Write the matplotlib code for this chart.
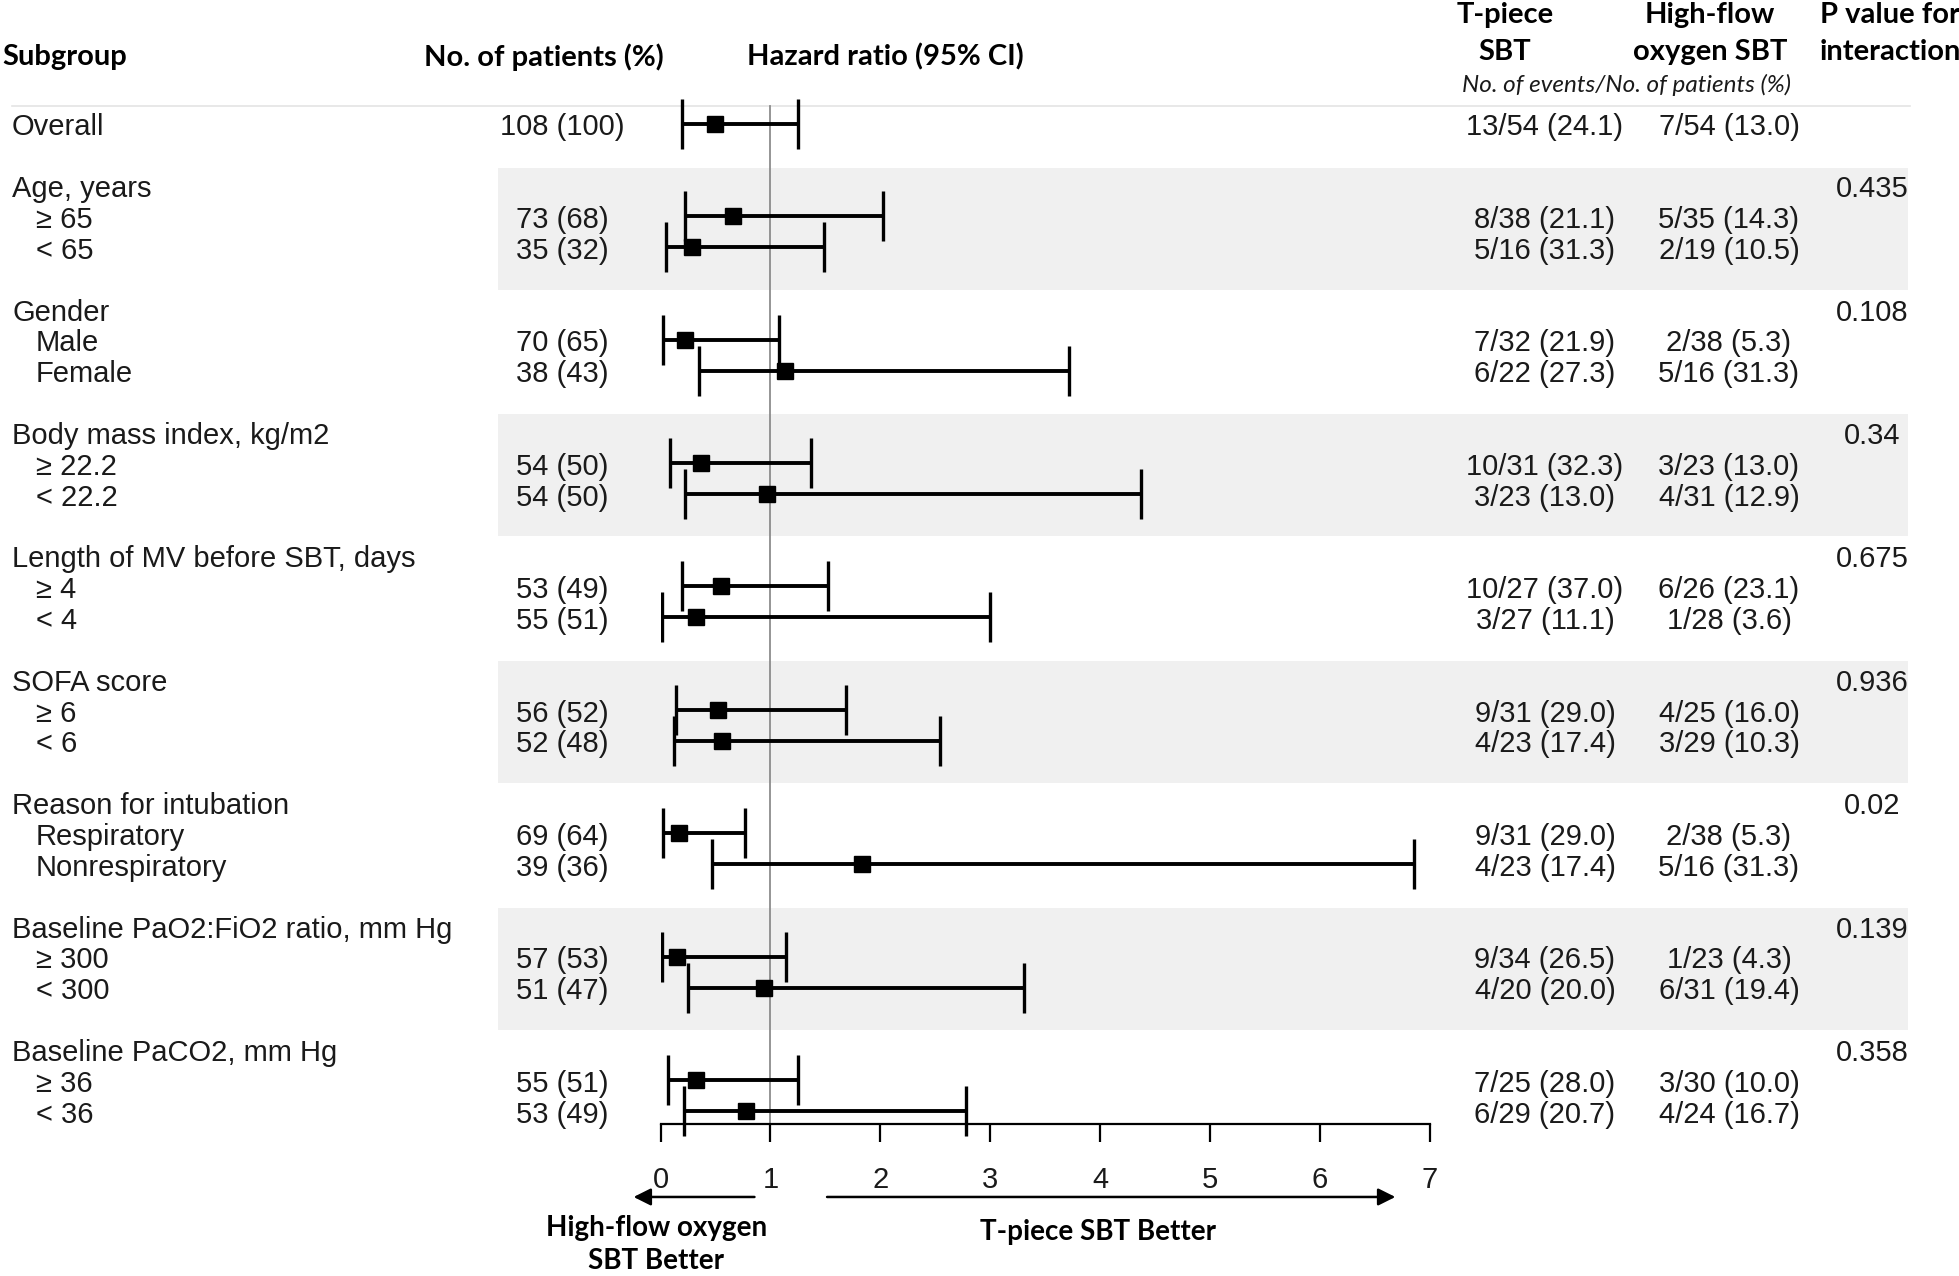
import numpy as np
import matplotlib
matplotlib.use("Agg")
import matplotlib.pyplot as plt

# ---- data -------------------------------------------------------------
group_names = ["Age, years", "Gender", "Body mass index, kg/m2",
               "Length of MV before SBT, days", "SOFA score",
               "Reason for intubation", "Baseline PaO2:FiO2 ratio, mm Hg",
               "Baseline PaCO2, mm Hg"]
sub_labels = [["≥ 65", "< 65"], ["Male", "Female"], ["≥ 22.2", "< 22.2"],
              ["≥ 4", "< 4"], ["≥ 6", "< 6"], ["Respiratory", "Nonrespiratory"],
              ["≥ 300", "< 300"], ["≥ 36", "< 36"]]
p_values = ["0.435", "0.108", "0.34", "0.675", "0.936", "0.02", "0.139", "0.358"]

# rows: Overall first, then two rows per group
n_patients = ["108 (100)",
              "73 (68)", "35 (32)", "70 (65)", "38 (43)", "54 (50)", "54 (50)",
              "53 (49)", "55 (51)", "56 (52)", "52 (48)", "69 (64)", "39 (36)",
              "57 (53)", "51 (47)", "55 (51)", "53 (49)"]
tpiece = ["13/54 (24.1)",
          "8/38 (21.1)", "5/16 (31.3)", "7/32 (21.9)", "6/22 (27.3)",
          "10/31 (32.3)", "3/23 (13.0)", "10/27 (37.0)", "3/27 (11.1)",
          "9/31 (29.0)", "4/23 (17.4)", "9/31 (29.0)", "4/23 (17.4)",
          "9/34 (26.5)", "4/20 (20.0)", "7/25 (28.0)", "6/29 (20.7)"]
hiflow = ["7/54 (13.0)",
          "5/35 (14.3)", "2/19 (10.5)", "2/38 (5.3)", "5/16 (31.3)",
          "3/23 (13.0)", "4/31 (12.9)", "6/26 (23.1)", "1/28 (3.6)",
          "4/25 (16.0)", "3/29 (10.3)", "2/38 (5.3)", "5/16 (31.3)",
          "1/23 (4.3)", "6/31 (19.4)", "3/30 (10.0)", "4/24 (16.7)"]
hr = np.array([0.50, 0.66, 0.29, 0.22, 1.13, 0.37, 0.97, 0.55, 0.32,
               0.52, 0.56, 0.17, 1.83, 0.15, 0.94, 0.32, 0.78])
hr_lo = np.array([0.20, 0.22, 0.05, 0.02, 0.35, 0.09, 0.22, 0.20, 0.01,
                  0.14, 0.12, 0.02, 0.47, 0.01, 0.25, 0.07, 0.21])
hr_hi = np.array([1.25, 2.02, 1.49, 1.08, 3.72, 1.37, 4.37, 1.52, 3.00,
                  1.69, 2.54, 0.77, 6.85, 1.14, 3.31, 1.25, 2.78])

# ---- layout -----------------------------------------------------------
W, H = 1959, 1276
row_px, y0_px = 30.85, 123.7            # line height, y of first row (pixels)
y_top = -y0_px / row_px
y_bot = (H - y0_px) / row_px
x0_px, unit_px = 660.5, 109.93          # pixel position of HR 0, px per HR unit
dy = 0.12                               # small downward nudge for table text

header_y = [2 + 4 * k for k in range(len(group_names))]
rows_y = [0]
for k in range(len(group_names)):
    rows_y += [3 + 4 * k, 4 + 4 * k]
rows_y = np.array(rows_y)
row_names = ["Overall"] + [s for pair in sub_labels for s in pair]

plt.rcParams['font.family'] = ['Liberation Sans', 'DejaVu Sans']
txt = dict(fontsize=21, color='#1a1a1a', va='center')
bold = dict(family=['Lato', 'DejaVu Sans'], fontweight='bold', color='black', va='center')

fig = plt.figure(figsize=(W / 100, H / 100), dpi=100)

# background axes: pixel x, row-unit y
bg = fig.add_axes([0, 0, 1, 1])
bg.set_xlim(0, W)
bg.set_ylim(y_bot, y_top)
bg.axis('off')

for k, hy in enumerate(header_y):
    if k % 2 == 0:
        bg.axhspan(hy - 0.58, hy + 3.38, xmin=498 / W, xmax=1908 / W,
                   color='#f0f0f0', lw=0, zorder=0)
bg.plot([12, 1910], [-0.57, -0.57], color='#e4e4e4', lw=1.2, zorder=1)

# headers
bg.text(2, -2.15, "Subgroup", ha='left', fontsize=21, **bold)
bg.text(544, -2.15, "No. of patients (%)", ha='center', fontsize=21, **bold)
bg.text(885, -2.15, "Hazard ratio (95% CI)", ha='center', fontsize=21, **bold)
bg.text(1505, -3.52, "T-piece", ha='center', fontsize=21, **bold)
bg.text(1505, -2.32, "SBT", ha='center', fontsize=21, **bold)
bg.text(1710, -3.52, "High-flow", ha='center', fontsize=21, **bold)
bg.text(1710, -2.32, "oxygen SBT", ha='center', fontsize=21, **bold)
bg.text(1890, -3.52, "P value for", ha='center', fontsize=21, **bold)
bg.text(1890, -2.32, "interaction", ha='center', fontsize=21, **bold)
bg.text(1627, -1.26, "No. of events/No. of patients (%)", ha='center',
        fontsize=17.5, family=['Lato', 'DejaVu Sans'], style='italic',
        color='#1a1a1a', va='center')

# table text
for k, name in enumerate(group_names):
    bg.text(12, header_y[k] + dy, name, ha='left', **txt)
    bg.text(1872, header_y[k] + dy, p_values[k], ha='center', **txt)
for i, y in enumerate(rows_y):
    bg.text(12 if i == 0 else 36, y + dy, row_names[i], ha='left', **txt)
    bg.text(562, y + dy, n_patients[i], ha='center', **txt)
    bg.text(1545, y + dy, tpiece[i], ha='center', **txt)
    bg.text(1729, y + dy, hiflow[i], ha='center', **txt)

# forest axes: HR x, same row-unit y
ax = fig.add_axes([x0_px / W, 0, 7 * unit_px / W, 1])
ax.set_facecolor('none')
ax.set_xlim(0, 7)
ax.set_ylim(y_bot, y_top)
for s in ['left', 'right', 'top']:
    ax.spines[s].set_visible(False)
ax.spines['bottom'].set_position(('data', 32.42))
ax.spines['bottom'].set_bounds(0, 7)
ax.spines['bottom'].set_linewidth(1.6)
ax.set_yticks([])
ax.set_xticks(range(8))
ax.tick_params(axis='x', direction='out', length=13, width=1.6, pad=17,
               labelsize=21, labelcolor='#1a1a1a')

ax.plot([1, 1], [-0.57, 32.42], color='#8c8c8c', lw=1.3, zorder=1)
ax.errorbar(hr, rows_y, xerr=[hr - hr_lo, hr_hi - hr], fmt='s', color='black',
            ms=12, capsize=18, elinewidth=2.8, capthick=2.4, zorder=3)

# direction arrows and labels
arrow = dict(arrowstyle='-|>', color='black', lw=1.8, mutation_scale=26)
ax.annotate("", xy=(-0.27, 34.79), xytext=(0.88, 34.79), arrowprops=arrow,
            annotation_clip=False)
ax.annotate("", xy=(6.71, 34.79), xytext=(1.49, 34.79), arrowprops=arrow,
            annotation_clip=False)
ax.text(-0.04, 35.8, "High-flow oxygen", ha='center', fontsize=20, clip_on=False, **bold)
ax.text(-0.04, 36.85, "SBT Better", ha='center', fontsize=20, clip_on=False, **bold)
ax.text(3.98, 35.92, "T-piece SBT Better", ha='center', fontsize=20, clip_on=False, **bold)

fig.savefig("out.png", dpi=100, facecolor='white')
